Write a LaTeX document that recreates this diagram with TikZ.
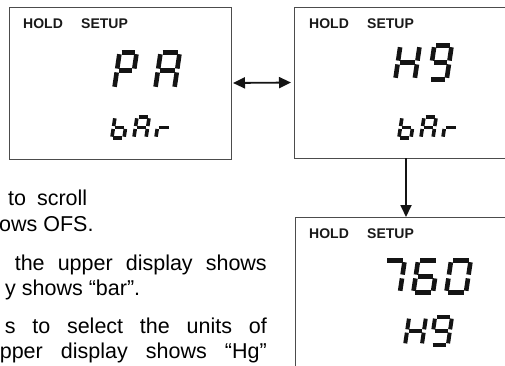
\documentclass[tikz,border=0pt]{standalone}
\usepackage{fontspec}
\setmainfont{Liberation Sans}
\usetikzlibrary{arrows.meta}
\tikzset{
  sega/.style={insert path={(0,2)--(1,2)}},
  segb/.style={insert path={(1,2)--(1,1)}},
  segc/.style={insert path={(1,1)--(1,0)}},
  segd/.style={insert path={(0,0)--(1,0)}},
  sege/.style={insert path={(0,0)--(0,1)}},
  segf/.style={insert path={(0,1)--(0,2)}},
  segg/.style={insert path={(0,1)--(1,1)}},
  lcdseg/.style={draw=black!92,line cap=butt},
  lcdbox/.style={draw=black!70,line width=1pt,inner sep=0pt,outer sep=0pt},
  lbl/.style={font=\bfseries\fontsize{14}{16}\selectfont,anchor=base west,inner sep=0pt,text=black!90},
  txt/.style={font=\fontsize{21.5}{25}\selectfont,inner sep=0pt},
  arr/.style={line width=1.8pt,draw=black!92},
  tip/.tip={Triangle[length=12pt,width=11pt]}
}
% left, top, width, height, stroke, segments
\newcommand\lcd[6]{%
  \pgfmathsetmacro\lsl{0.13*(#4)}%
  \pgfmathsetmacro\lbx{#1+#5/2}%
  \pgfmathsetmacro\lby{#2+#4-#5/2}%
  \pgfmathsetmacro\lww{#3-#5-\lsl}%
  \pgfmathsetmacro\lhh{(#4-#5)/2}%
  \pgfmathsetmacro\lsh{\lsl/2}%
  \pgfmathsetmacro\lsr{0.42*#5}%
  \begin{scope}[shift={(\lbx,\lby)},x={(\lww pt,0pt)},y={(\lsh pt,\lhh pt)},line width=#5pt,shorten >=\lsr pt,shorten <=\lsr pt]
    \foreach \s in {#6}{\edef\lcdtmp{\noexpand\draw[lcdseg,seg\s];}\lcdtmp}
  \end{scope}}
\begin{document}
\begin{tikzpicture}[x=1pt,y=-1pt]
\useasboundingbox (0,0) rectangle (505,365);
\clip (0,0) rectangle (505,365);
\fill[white] (0,0) rectangle (505,365);

% boxes
\node[lcdbox,minimum width=222pt,minimum height=152pt] (b1) at (120,83) {};
\node[lcdbox,minimum width=236pt,minimum height=151pt] (b2) at (412,82.5) {};
\node[lcdbox,minimum width=235pt,minimum height=163pt] (b3) at (412.5,298.5) {};
\coordinate (dx) at (406,0);

% labels
\node[lbl] (h1) at (23,28) {HOLD};
\node[lbl] (s1) at (81,28) {SETUP};
\node[lbl] (h2) at (309,28) {HOLD};
\node[lbl] (s2) at (367,28) {SETUP};
\node[lbl] (h3) at (309,238) {HOLD};
\node[lbl] (s3) at (367,238) {SETUP};

% box 1: PA / bAr
\lcd{112}{50}{27}{41}{4.6}{a,b,e,f,g}
\lcd{153}{50}{29}{41}{4.6}{a,b,c,e,f,g}
\lcd{110}{115}{19}{25}{3.6}{c,d,e,f,g}
\lcd{132}{115}{19}{25}{3.6}{a,b,c,e,f,g}
\lcd{154}{115}{20}{25}{3.6}{e,g}

% box 2: H9 / bAr
\lcd{393}{43}{29}{39}{4.6}{b,c,e,f,g}
\lcd{427}{43}{27}{39}{4.6}{a,b,c,d,f,g}
\lcd{397}{115}{19}{25}{3.6}{c,d,e,f,g}
\lcd{419}{115}{19}{25}{3.6}{a,b,c,e,f,g}
\lcd{441}{115}{20}{25}{3.6}{e,g}

% box 3: 760 / H9
\lcd{378}{258}{29}{37}{4.6}{a,b,c}
\lcd{411}{258}{29}{37}{4.6}{a,c,d,e,f,g}
\lcd{444}{258}{29}{37}{4.6}{a,b,c,d,e,f}
\lcd{403}{315}{25}{32}{4}{b,c,e,f,g}
\lcd{429}{315}{25}{32}{4}{a,b,c,d,f,g}

% connectors
\draw[arr,tip-tip,shorten <=2pt,shorten >=3pt] (b1.east) -- (b2.west);
\draw[arr,-tip] (b2.south -| dx) -- (b3.north -| dx);

% body text
\node[txt,anchor=base west] (t1) at (8,205) {\makebox[79pt][s]{to scroll}};
\node[txt,anchor=base west] (t2) at (-1,231) {ows OFS.};
\node[txt,anchor=base east] (t3) at (267,270) {\makebox[252pt][s]{the upper display shows}};
\node[txt,anchor=base west] (t4) at (5,295) {y shows “bar”.};
\node[txt,anchor=base east] (t5) at (267,333) {\makebox[262pt][s]{s to select the units of}};
\node[txt,anchor=base east] (t6) at (267,358) {\makebox[267pt][s]{pper display shows “Hg”}};
\end{tikzpicture}
\end{document}
